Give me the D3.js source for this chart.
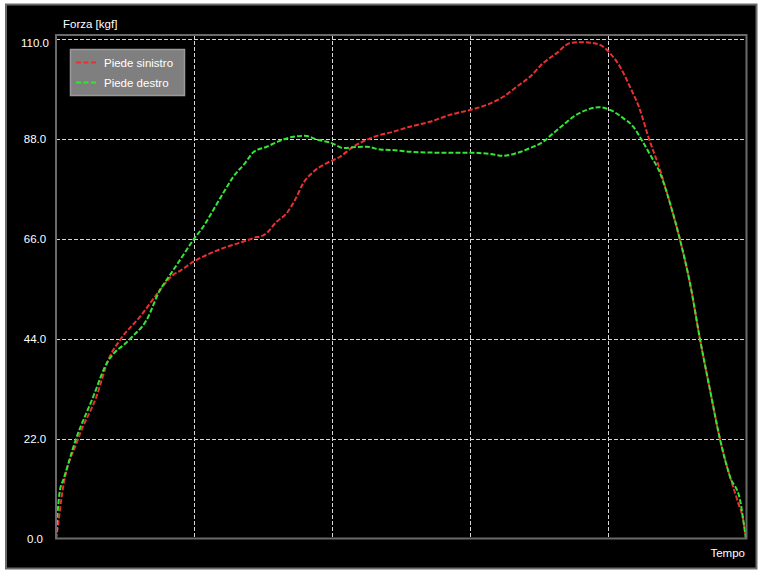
<!DOCTYPE html>
<html>
<head>
<meta charset="utf-8">
<script src="https://cdn.jsdelivr.net/npm/d3@7"></script>
<style>
  html, body { margin: 0; padding: 0; background: #ffffff; }
  svg { display: block; }
  text { font-family: "Liberation Sans", Arial, sans-serif; }
</style>
</head>
<body>
<svg id="chart" width="763" height="574"></svg>
<script>
// ---- Data ----
const yTicks = [0, 22, 44, 66, 88, 110];
const xGridTicks = [0, 1, 2, 3, 4, 5];
const yTitle = "Forza [kgf]";
const xTitle = "Tempo";
const seriesNames = ["Piede sinistro", "Piede destro"];
const seriesColors = ["#e83030", "#33e633"];

const leftTime = [0, 0.017, 0.041, 0.16, 0.295, 0.379, 0.469, 0.609, 0.754, 0.848, 0.899, 0.995, 1.092, 1.212, 1.333, 1.43, 1.514, 1.599, 1.672, 1.732, 1.792, 1.865, 1.962, 2.058, 2.154, 2.251, 2.348, 2.42, 2.565, 2.71, 2.855, 3.0, 3.121, 3.241, 3.338, 3.435, 3.531, 3.628, 3.725, 3.80, 3.87, 3.942, 4.014, 4.087, 4.159, 4.232, 4.292, 4.377, 4.449, 4.522, 4.594, 4.667, 4.739, 4.812, 4.884, 4.944, 4.98, 5.0];
const leftForce = [0, 3.5, 9.3, 22.0, 31.5, 39.4, 44.0, 48.9, 54.8, 58.1, 59.0, 61.0, 62.5, 64.0, 65.2, 66.2, 67.0, 69.8, 71.7, 74.6, 78.3, 80.8, 82.7, 84.1, 86.3, 87.8, 88.9, 89.4, 90.7, 91.8, 93.3, 94.4, 95.5, 97.3, 99.5, 101.7, 104.7, 106.9, 109.1, 109.3, 109.2, 108.7, 106.9, 103.9, 99.5, 94.4, 88.5, 81.2, 73.9, 65.8, 56.3, 43.9, 32.8, 21.9, 13.7, 7.9, 4.2, 0];

const rightTime = [0, 0.005, 0.029, 0.053, 0.145, 0.27, 0.355, 0.536, 0.657, 0.754, 0.802, 0.899, 0.995, 1.067, 1.14, 1.212, 1.285, 1.37, 1.43, 1.527, 1.623, 1.72, 1.804, 1.889, 1.998, 2.082, 2.154, 2.251, 2.348, 2.42, 2.565, 2.759, 3.0, 3.145, 3.241, 3.338, 3.435, 3.531, 3.604, 3.676, 3.749, 3.846, 3.93, 4.014, 4.11, 4.183, 4.244, 4.304, 4.377, 4.449, 4.522, 4.594, 4.667, 4.739, 4.812, 4.884, 4.957, 4.98, 5.0];
const rightForce = [0, 2.7, 10.8, 13.0, 22.0, 31.3, 37.9, 44.0, 48.2, 54.8, 57.0, 61.4, 65.8, 68.7, 72.4, 76.1, 79.7, 82.7, 85.1, 86.3, 87.6, 88.5, 88.7, 87.9, 87.1, 86.0, 86.2, 86.3, 85.7, 85.6, 85.2, 85.0, 85.0, 84.7, 84.3, 84.9, 86.0, 87.4, 89.3, 91.1, 92.9, 94.4, 95.0, 94.4, 92.6, 90.7, 87.8, 84.6, 80.5, 73.9, 65.8, 56.3, 43.9, 32.8, 21.9, 13.7, 8.6, 4.2, 0];

// ---- Layout ----
const svg = d3.select("#chart");
const W = 763, H = 574;
const plot = { left: 56, right: 746.5, top: 35, bottom: 538.5 };

const x = d3.scaleLinear().domain([0, 5]).range([56, 746]);
const y = d3.scaleLinear().domain([0, 110]).range([539, 39]);

// background
svg.append("rect").attr("x", 0).attr("y", 0).attr("width", W).attr("height", H).attr("fill", "#ffffff");
svg.append("rect").attr("x", 6).attr("y", 4.5).attr("width", 750.5).attr("height", 564)
  .attr("fill", "#000000").attr("stroke", "#6a6a6a").attr("stroke-width", 2);

// grid
const grid = svg.append("g");
grid.selectAll("line.h").data(yTicks.filter(d => d > 0)).join("line")
  .attr("x1", plot.left).attr("x2", plot.right)
  .attr("y1", d => Math.round(y(d)) + 0.5).attr("y2", d => Math.round(y(d)) + 0.5)
  .attr("stroke", "#d8d8d8").attr("stroke-width", 1).attr("stroke-dasharray", "4,2");
grid.selectAll("line.v").data(xGridTicks.filter(d => d > 0 && d < 5)).join("line")
  .attr("x1", d => Math.round(x(d)) + 0.5).attr("x2", d => Math.round(x(d)) + 0.5)
  .attr("y1", plot.top).attr("y2", plot.bottom)
  .attr("stroke", "#d8d8d8").attr("stroke-width", 1).attr("stroke-dasharray", "4,2");

// y tick labels
svg.append("g").selectAll("text").data(yTicks).join("text")
  .attr("x", 35)
  .attr("y", d => Math.max(y(d), 43) + 4)
  .attr("text-anchor", "middle")
  .attr("fill", "#ffffff").attr("font-size", "11.5px")
  .text(d => d3.format(".1f")(d));

// axis titles
svg.append("text").attr("x", 63).attr("y", 28).attr("fill", "#ffffff").attr("font-size", "11.5px").text(yTitle);
svg.append("text").attr("x", 745).attr("y", 557).attr("text-anchor", "end").attr("fill", "#ffffff").attr("font-size", "11.5px").text(xTitle);

// lines
const series = [
  { name: seriesNames[0], color: seriesColors[0], t: leftTime, v: leftForce },
  { name: seriesNames[1], color: seriesColors[1], t: rightTime, v: rightForce }
];
const line = d3.line().x(d => x(d[0])).y(d => y(d[1])).curve(d3.curveMonotoneX);
svg.append("g").selectAll("path").data(series).join("path")
  .attr("d", s => line(s.t.map((t, i) => [t, s.v[i]])))
  .attr("fill", "none").attr("stroke", s => s.color)
  .attr("stroke-width", 2).attr("stroke-dasharray", "5,2");

// plot border
svg.append("rect").attr("x", plot.left).attr("y", plot.top)
  .attr("width", plot.right - plot.left).attr("height", plot.bottom - plot.top)
  .attr("fill", "none").attr("stroke", "#6a6a6a").attr("stroke-width", 2);

// legend
const lg = svg.append("g");
lg.append("rect").attr("x", 70.5).attr("y", 49.5).attr("width", 114).attr("height", 46)
  .attr("fill", "#7f7f7f").attr("stroke", "#9a9a9a").attr("stroke-width", 1.5);
series.forEach((s, i) => {
  const ly = 62.5 + i * 20;
  lg.append("line").attr("x1", 76).attr("x2", 97).attr("y1", ly).attr("y2", ly)
    .attr("stroke", s.color).attr("stroke-width", 2).attr("stroke-dasharray", "5,2.5");
  lg.append("text").attr("x", 104).attr("y", ly + 4.5).attr("fill", "#ffffff")
    .attr("font-size", "11.5px").text(s.name);
});
</script>
</body>
</html>
